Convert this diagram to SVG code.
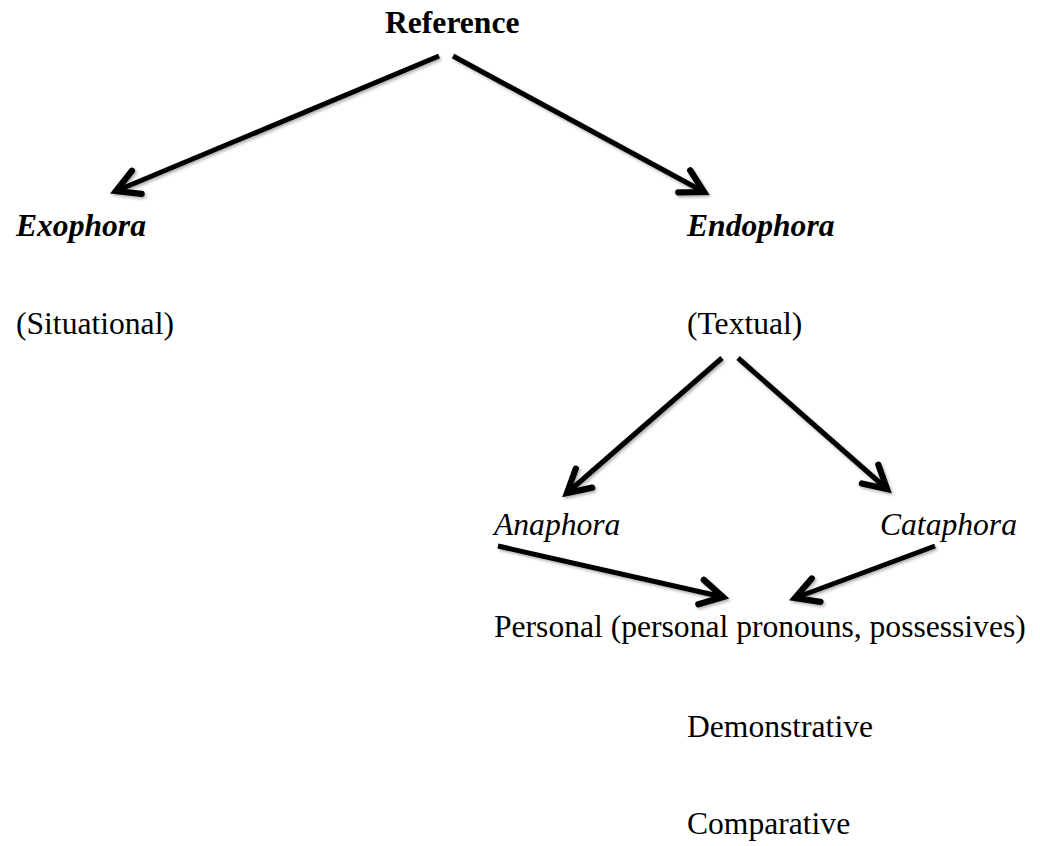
<svg xmlns="http://www.w3.org/2000/svg" width="1040" height="846" viewBox="0 0 1040 846">
<style>
text{font-family:"Liberation Serif","Times New Roman",serif;font-size:31.6px;fill:#000}
.b{font-weight:bold}
.i{font-style:italic}
.c line{stroke:#000;stroke-width:5;stroke-linecap:butt}
</style>
<defs>
<marker id="ah" markerUnits="userSpaceOnUse" markerWidth="40" markerHeight="40" viewBox="-24 -16 30 32" refX="0" refY="0" orient="auto">
<path d="M-18,-10 L0,0 L-18,10" fill="none" stroke="#000" stroke-width="5" stroke-linecap="round" stroke-linejoin="miter"/>
</marker>
<filter id="sh" x="-10%" y="-10%" width="130%" height="130%">
<feDropShadow dx="1.5" dy="2" stdDeviation="1.5" flood-color="#000" flood-opacity="0.3"/>
</filter>
</defs>
<rect width="1040" height="846" fill="#fff"/>
<g id="connectors" class="c" filter="url(#sh)">
<line x1="439" y1="56" x2="116" y2="191" marker-end="url(#ah)"/>
<line x1="453" y1="56" x2="704" y2="192" marker-end="url(#ah)"/>
<line x1="722" y1="358" x2="567" y2="493" marker-end="url(#ah)"/>
<line x1="738" y1="358" x2="887" y2="489" marker-end="url(#ah)"/>
<line x1="498" y1="546" x2="723" y2="597" marker-end="url(#ah)"/>
<line x1="935" y1="546" x2="795" y2="598" marker-end="url(#ah)"/>
</g>
<g id="reference"><text class="b" x="385" y="33">Reference</text></g>
<g id="exophora"><text class="b i" x="16" y="236">Exophora</text></g>
<g id="endophora"><text class="b i" x="687" y="236">Endophora</text></g>
<g id="situational"><text x="16" y="334">(Situational)</text></g>
<g id="textual"><text x="687" y="334">(Textual)</text></g>
<g id="anaphora"><text class="i" x="494" y="535">Anaphora</text></g>
<g id="cataphora"><text class="i" x="880" y="535">Cataphora</text></g>
<g id="personal"><text x="494" y="637">Personal (personal pronouns, possessives)</text></g>
<g id="demonstrative"><text x="687" y="737">Demonstrative</text></g>
<g id="comparative"><text x="687" y="834">Comparative</text></g>
</svg>
